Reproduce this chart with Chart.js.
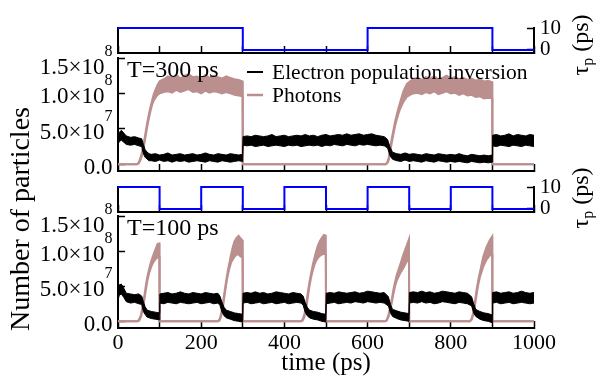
<!DOCTYPE html>
<html>
<head>
<meta charset="utf-8">
<script src="https://cdn.jsdelivr.net/npm/chart.js@4.4.1/dist/chart.umd.min.js"></script>
<style>
  body { margin: 0; background: #fff; }
  #wrap { position: relative; width: 596px; height: 381px; }
  canvas { position: absolute; left: 0; top: 0; }
</style>
</head>
<body>
<div id="wrap">
  <canvas id="tau300" width="596" height="381"></canvas>
  <canvas id="num300" width="596" height="381"></canvas>
  <canvas id="tau100" width="596" height="381"></canvas>
  <canvas id="num100" width="596" height="381"></canvas>
</div>
<script>
// pump pulse width tau_p (ps), square waves
const tauTime300 = [0, 300, 300, 600, 600, 900, 900, 1000];
const tauVal300  = [10, 10, 0, 0, 10, 10, 0, 0];
const tauTime100 = [0, 100, 100, 200, 200, 300, 300, 400, 400, 500, 500, 600, 600, 700, 700, 800, 800, 900, 900, 1000];
const tauVal100  = [10, 10, 0, 0, 10, 10, 0, 0, 10, 10, 0, 0, 10, 10, 0, 0, 10, 10, 0, 0];

// T=300 ps, electron population inversion (units of 1e6), upper/lower edge of the noisy trace
const elecTime300 = [0, 3, 8, 14, 20, 30, 40, 50, 57, 61, 65, 70, 75,
  80, 90, 100, 110, 120, 130, 140, 150, 160, 170, 180, 190, 200, 210, 220, 230, 240, 250, 260, 270, 280, 290, 299.5,
  300.5, 310, 320, 330, 340, 350, 360, 370, 380, 390, 400, 410, 420, 430, 440, 450, 460, 470, 480, 490, 500,
  510, 520, 530, 540, 550, 560, 570, 580, 590, 600, 610, 620, 630, 640, 648, 654, 660,
  670, 680, 690, 700, 710, 720, 730, 740, 750, 760, 770, 780, 790, 800, 810, 820, 830, 840, 850, 860, 870, 880, 890, 899.5,
  900.5, 910, 920, 930, 940, 950, 960, 970, 980, 990, 1000];
const elecHi300 = [34, 45, 48, 44, 40, 38, 39, 37, 36, 28, 21, 17, 15,
  14, 15, 13, 14, 16, 13, 14, 15, 13, 14, 15, 13, 14, 16, 14, 13, 15, 14, 13, 15, 14, 13, 14,
  39, 40, 39, 41, 40, 39, 40, 42, 39, 40, 41, 39, 40, 41, 40, 42, 40, 41, 39, 41, 42,
  40, 41, 42, 41, 43, 41, 42, 43, 41, 42, 43, 41, 40, 39, 35, 24, 17,
  15, 14, 16, 14, 15, 14, 13, 15, 14, 13, 15, 14, 13, 14, 13, 15, 13, 12, 14, 13, 12, 13, 12, 13,
  41, 42, 40, 41, 43, 40, 42, 41, 40, 42, 41];
const elecLo300 = [28, 32, 34, 31, 28, 27, 28, 26, 25, 15, 10, 7, 5,
  5, 4, 6, 4, 5, 3, 5, 4, 5, 3, 4, 5, 4, 3, 5, 4, 3, 5, 4, 3, 4, 5, 4,
  27, 26, 27, 25, 26, 27, 25, 26, 27, 26, 25, 27, 26, 27, 25, 26, 27, 26, 27, 25, 27,
  26, 28, 27, 26, 28, 27, 26, 28, 27, 28, 27, 26, 27, 26, 23, 12, 7,
  5, 4, 6, 4, 5, 4, 3, 5, 4, 3, 5, 4, 3, 4, 3, 4, 3, 2, 4, 3, 2, 3, 2, 3,
  26, 25, 27, 26, 25, 27, 26, 25, 27, 26, 25];

// T=300 ps, photons (units of 1e6)
const photTime300 = [0, 46, 50, 54, 58, 62, 66, 70, 74, 78, 82, 86, 90, 95, 100,
  110, 120, 130, 140, 150, 160, 170, 180, 190, 200, 210, 220, 230, 240, 250, 260, 270, 280, 290, 299.5, 300,
  644, 648, 651, 654, 658, 662, 666, 670, 674, 678, 686, 694, 702, 710,
  720, 730, 740, 750, 760, 770, 780, 790, 800, 810, 820, 830, 840, 850, 860, 870, 880, 890, 899.5, 900, 1000];
const photHi300 = [0, 0, 3, 9, 18, 30, 44, 58, 70, 81, 90, 99, 105, 112, 117,
  120, 124, 122, 126, 121, 125, 127, 123, 124, 121, 126, 122, 125, 123, 121, 124, 122, 120, 119, 117, 0,
  0, 4, 10, 22, 36, 48, 60, 70, 79, 87, 103, 113, 117, 120,
  122, 119, 123, 121, 124, 120, 122, 125, 121, 123, 120, 122, 119, 121, 118, 120, 117, 118, 116, 0, 0];
const photLo300 = [0, 0, 1, 6, 13, 24, 38, 52, 64, 75, 84, 90, 94, 98, 100,
  102, 103, 101, 105, 102, 104, 106, 102, 103, 100, 104, 101, 103, 102, 100, 102, 100, 98, 97, 96, 0,
  0, 2, 6, 16, 30, 42, 54, 63, 71, 78, 88, 95, 98, 100,
  101, 99, 102, 100, 103, 99, 101, 103, 100, 101, 98, 100, 97, 98, 95, 96, 93, 94, 93, 0, 0];

// T=100 ps, electron population inversion (units of 1e6)
const elecTime100 = [0, 3, 8, 14, 20, 30, 40, 50, 57, 61, 65, 70, 80, 90, 99.5,
  100.5, 110, 120, 130, 140, 150, 160, 170, 180, 190, 200, 210, 220, 230, 240,
  245, 250, 255, 260, 270, 280, 290, 299.5,
  300.5, 310, 320, 330, 340, 350, 360, 370, 380, 390, 400, 410, 420, 430, 440,
  445, 450, 455, 460, 470, 480, 490, 499.5,
  500.5, 510, 520, 530, 540, 550, 560, 570, 580, 590, 600, 610, 620, 630, 640,
  650, 655, 660, 670, 680, 690, 699.5,
  700.5, 710, 720, 730, 740, 750, 760, 770, 780, 790, 800, 810, 820, 830, 840,
  850, 855, 860, 870, 880, 890, 899.5,
  900.5, 910, 920, 930, 940, 950, 960, 970, 980, 990, 1000];
const elecHi100 = [38, 52, 53, 47, 40, 39, 38, 39, 36, 28, 21, 16, 14, 13, 12,
  39, 40, 41, 39, 40, 42, 40, 39, 41, 40, 39, 41, 40, 39, 40,
  36, 27, 20, 16, 14, 12, 11, 10,
  40, 41, 40, 42, 40, 41, 39, 40, 42, 41, 40, 39, 41, 40, 39,
  36, 27, 20, 16, 14, 13, 11, 10,
  40, 41, 40, 42, 41, 40, 41, 42, 40, 41, 43, 42, 41, 40, 41,
  35, 24, 17, 15, 13, 12, 11,
  41, 42, 41, 43, 41, 42, 40, 41, 43, 42, 41, 40, 42, 41, 40,
  35, 25, 17, 14, 12, 11, 9,
  41, 42, 40, 41, 42, 40, 41, 43, 41, 40, 41];
const elecLo100 = [30, 37, 39, 34, 28, 26, 27, 25, 24, 14, 10, 6, 4, 3, 2,
  26, 25, 27, 26, 25, 27, 26, 25, 26, 27, 25, 26, 27, 25, 26,
  23, 13, 8, 5, 3, 1, 0, -1,
  26, 27, 25, 26, 27, 25, 26, 27, 25, 26, 27, 25, 26, 27, 26,
  23, 13, 8, 5, 3, 2, 0, -1,
  25, 26, 27, 25, 26, 27, 26, 28, 27, 26, 28, 27, 26, 27, 26,
  22, 12, 7, 4, 2, 1, 0,
  26, 27, 26, 28, 26, 27, 25, 26, 28, 27, 26, 25, 27, 26, 25,
  22, 12, 7, 3, 1, 0, -2,
  26, 27, 25, 26, 27, 25, 26, 27, 26, 25, 26];

// T=100 ps, photons (units of 1e6)
const photTime100 = [0, 47, 51, 55, 59, 63, 67, 71, 75, 79, 83, 87, 91, 95, 99.5, 100,
  240, 244, 248, 252, 256, 260, 264, 268, 272, 276, 280, 285, 290, 295, 299.5, 300,
  440, 444, 448, 452, 456, 460, 464, 468, 472, 476, 480, 485, 490, 495, 499.5, 500,
  642, 646, 650, 654, 658, 662, 666, 670, 678, 686, 694, 699.5, 700,
  846, 850, 854, 858, 862, 866, 870, 878, 886, 894, 899.5, 900, 1000];
const photHi100 = [0, 0, 3, 9, 20, 35, 51, 65, 75, 84, 91, 98, 104, 110, 111, 0,
  0, 3, 11, 25, 42, 58, 72, 84, 96, 106, 114, 119, 122, 118, 115, 0,
  0, 3, 10, 23, 40, 55, 68, 80, 90, 99, 107, 114, 119, 123, 122, 0,
  0, 2, 9, 19, 31, 45, 56, 66, 80, 95, 108, 117, 0,
  0, 4, 13, 28, 45, 59, 70, 92, 106, 116, 121, 0, 0];
const photLo100 = [0, 0, 1, 6, 15, 29, 45, 59, 69, 76, 82, 86, 89, 91, 92, 0,
  0, 1, 7, 19, 36, 52, 66, 76, 84, 88, 92, 95, 95, 92, 91, 0,
  0, 1, 6, 17, 33, 49, 62, 72, 80, 86, 90, 93, 95, 96, 95, 0,
  0, 1, 6, 14, 26, 39, 50, 58, 68, 76, 85, 88, 0,
  0, 2, 9, 22, 38, 52, 63, 78, 88, 94, 95, 0, 0];

// axis ticks
const xTicks = [0, 100, 200, 300, 400, 500, 600, 700, 800, 900, 1000];
const yTicks = [0, 50, 100, 150];
const yTickBase = ['0.0', '5.0×10', '1.0×10', '1.5×10'];
const yTickExp = ['', '7', '8', '8'];
const tauTicks = [0, 10];

const W = 596, H = 381;
const SERIF = "'Liberation Serif', 'DejaVu Serif', serif";
const BLUE = '#0000ff', ROSY = '#bc8f8f';
Chart.defaults.font.family = SERIF;

function pts(t, v) {
  return t.map((x, i) => ({ x: x, y: v[i] }));
}

// text made of runs (for sub/superscripts), optionally rotated
function drawRuns(ctx, runs, x, y, align, rot) {
  ctx.save();
  ctx.translate(x, y);
  if (rot) ctx.rotate(-Math.PI / 2);
  let w = 0;
  runs.forEach(r => {
    ctx.font = r.size + 'px ' + SERIF;
    r.w = ctx.measureText(r.t).width;
    w += r.w;
  });
  let cx = align === 'center' ? -w / 2 : (align === 'right' ? -w : 0);
  ctx.textAlign = 'left';
  ctx.textBaseline = 'alphabetic';
  ctx.fillStyle = '#000';
  runs.forEach(r => {
    ctx.font = r.size + 'px ' + SERIF;
    ctx.fillText(r.t, cx, r.dy || 0);
    cx += r.w;
  });
  ctx.restore();
}

const decor = {
  id: 'decor',
  afterDraw(chart, args, opts) {
    const ctx = chart.ctx;
    if (opts.expAxis) {
      const s = chart.scales.y;
      yTicks.forEach((v, i) => {
        let cy = s.getPixelForValue(v) + 2;
        if (i === yTicks.length - 1) cy += 6;
        const runs = [{ t: yTickBase[i], size: 23, dy: 8 }];
        if (yTickExp[i]) runs.push({ t: yTickExp[i], size: 16, dy: -10 });
        drawRuns(ctx, runs, 112.5, cy, 'right', false);
      });
    }
    (opts.legend || []).forEach(l => {
      ctx.save();
      ctx.strokeStyle = l.color;
      ctx.lineWidth = l.lw;
      ctx.beginPath();
      ctx.moveTo(247, l.y);
      ctx.lineTo(263, l.y);
      ctx.stroke();
      ctx.restore();
      drawRuns(ctx, [{ t: l.text, size: 21.5 }], 272, l.y + 6.5, 'left', false);
    });
    (opts.texts || []).forEach(tx => drawRuns(ctx, tx.runs, tx.x, tx.y, tx.align, tx.rot));
  }
};

const tickGrid = { display: true, drawOnChartArea: false, drawTicks: true, tickLength: -7, tickColor: '#000', tickWidth: 1.5 };
const axisBorder = { display: true, color: '#000', width: 2 };

function xScale(h) {
  return {
    type: 'linear', position: 'bottom', min: 0, max: 1000,
    afterBuildTicks: s => { s.ticks = xTicks.map(v => ({ value: v })); },
    afterFit: s => { s.height = h; },
    border: axisBorder,
    grid: tickGrid,
    ticks: {
      display: h > 0, padding: 9, color: '#000', font: { family: SERIF, size: 22 },
      maxRotation: 0, autoSkip: false,
      callback: v => (v % 200 === 0 ? String(v) : '')
    }
  };
}

function numScales(h) {
  return {
    x: xScale(h),
    y: {
      type: 'linear', position: 'left', min: -9.5, max: 150,
      afterBuildTicks: s => { s.ticks = yTicks.map(v => ({ value: v })); },
      afterFit: s => { s.width = 0; },
      border: axisBorder,
      grid: tickGrid,
      ticks: { display: false }
    }
  };
}

function tauScales(w) {
  return {
    x: xScale(0),
    y: {
      type: 'linear', position: 'right', min: -1.4, max: 10,
      afterBuildTicks: s => { s.ticks = tauTicks.map(v => ({ value: v })); },
      afterFit: s => { s.width = w; },
      border: axisBorder,
      grid: tickGrid,
      ticks: { display: true, autoSkip: false, padding: 13, color: '#000', font: { family: SERIF, size: 21 } }
    },
    yl: {
      type: 'linear', position: 'left', min: -1.4, max: 10,
      afterFit: s => { s.width = 0; },
      border: axisBorder,
      grid: { display: false },
      ticks: { display: false }
    }
  };
}

function bandSets(t, hiE, loE, tP, hiP, loP) {
  return [
    { data: pts(t, hiE), borderColor: '#000', backgroundColor: '#000', borderWidth: 1, fill: '+1' },
    { data: pts(t, loE), borderColor: '#000', borderWidth: 1, fill: false },
    { data: pts(tP, hiP), borderColor: ROSY, backgroundColor: ROSY, borderWidth: 2, fill: '+1' },
    { data: pts(tP, loP), borderColor: ROSY, borderWidth: 2, fill: false }
  ];
}

// area = wanted plot box in pixels; xh / rw = room kept for bottom / right tick labels
function panel(id, area, xh, rw, datasets, scales, decorOpts) {
  return new Chart(document.getElementById(id), {
    type: 'line',
    data: { datasets: datasets },
    options: {
      responsive: false,
      animation: false,
      devicePixelRatio: 1,
      layout: { padding: { left: area.l, right: W - area.r - rw, top: area.t, bottom: H - area.b - xh } },
      elements: { point: { radius: 0 }, line: { tension: 0 } },
      plugins: { legend: { display: false }, tooltip: { enabled: false }, decor: decorOpts },
      scales: scales
    },
    plugins: [decor]
  });
}

const tauTitle = [{ t: 'τ', size: 24 }, { t: 'p', size: 16, dy: 5 }, { t: ' (ps)', size: 24 }];

panel('tau300', { l: 118, r: 534, t: 28, b: 53 }, 0, 40,
  [{ data: pts(tauTime300, tauVal300), borderColor: BLUE, borderWidth: 2, fill: false, clip: false }],
  tauScales(40),
  { texts: [{ runs: tauTitle, x: 588, y: 45, align: 'center', rot: true }] });

panel('num300', { l: 118, r: 534, t: 58, b: 171 }, 0, 0,
  bandSets(elecTime300, elecHi300, elecLo300, photTime300, photHi300, photLo300),
  numScales(0),
  {
    expAxis: true,
    texts: [{ runs: [{ t: 'T=300 ps', size: 24 }], x: 127, y: 77, align: 'left' }],
    legend: [
      { text: 'Electron population inversion', color: '#000', lw: 2, y: 72 },
      { text: 'Photons', color: ROSY, lw: 2.5, y: 95 }
    ]
  });

panel('tau100', { l: 118, r: 534, t: 187, b: 212 }, 0, 40,
  [{ data: pts(tauTime100, tauVal100), borderColor: BLUE, borderWidth: 2, fill: false, clip: false }],
  tauScales(40),
  { texts: [{ runs: tauTitle, x: 588, y: 198, align: 'center', rot: true }] });

panel('num100', { l: 118, r: 534, t: 216, b: 328 }, 40, 0,
  bandSets(elecTime100, elecHi100, elecLo100, photTime100, photHi100, photLo100),
  numScales(40),
  {
    expAxis: true,
    texts: [
      { runs: [{ t: 'T=100 ps', size: 24 }], x: 127, y: 234.5, align: 'left' },
      { runs: [{ t: 'time (ps)', size: 25 }], x: 326, y: 370, align: 'center' },
      { runs: [{ t: 'Number of particles', size: 28 }], x: 29, y: 219, align: 'center', rot: true }
    ]
  });
</script>
</body>
</html>
